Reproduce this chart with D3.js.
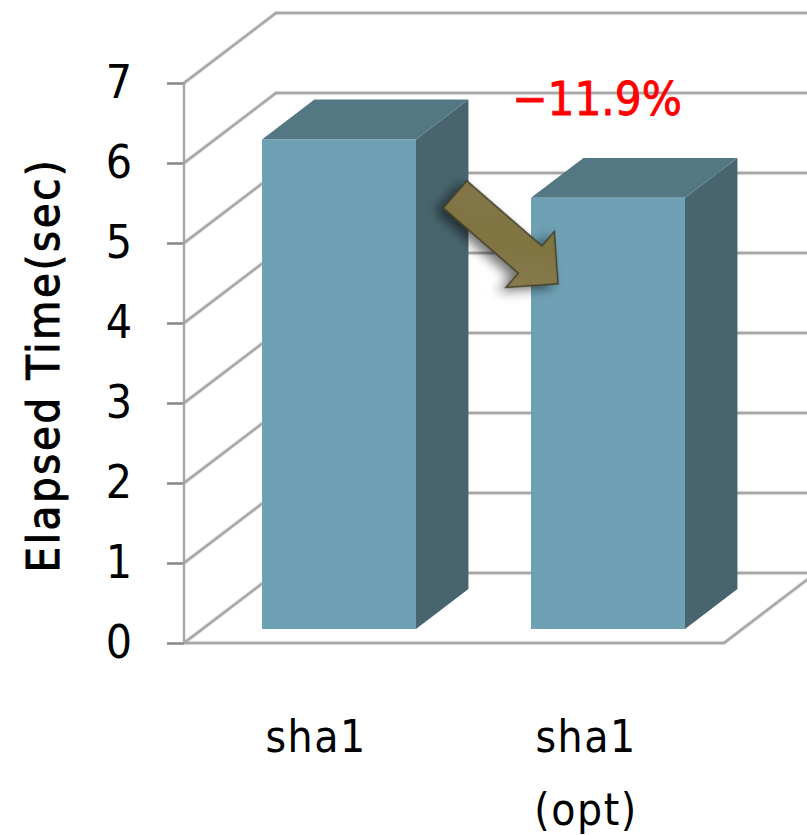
<!DOCTYPE html>
<html>
<head>
<meta charset="utf-8">
<script src="https://cdn.jsdelivr.net/npm/d3@7"></script>
<style>
  html, body { margin: 0; padding: 0; background: #fff; }
  svg { display: block; }
  text { font-family: "DejaVu Sans Condensed", "DejaVu Sans", sans-serif; font-stretch: condensed; fill: #000; }
</style>
</head>
<body>
<svg id="chart" width="807" height="835"></svg>
<script>
// Elapsed time per build
const categories = ["sha1", "sha1 (opt)"];
const categoryLines = [["sha1"], ["sha1", "(opt)"]];
const elapsed = [6.12, 5.39];
const yTicks = [0, 1, 2, 3, 4, 5, 6, 7];
const yTitle = "Elapsed Time(sec)";
const changeLabel = "\u221211.9%";

const width = 807, height = 835;
const frontLeft = 184, frontRight = 724, floorY = 643, topY = 83;
// Projection of the chart depth onto the screen
const depthX = 92, depthY = -70;
const barDepthStart = 0.2, barDepthEnd = 0.77;

const svg = d3.select("#chart");
const y = d3.scaleLinear().domain([0, 7]).range([floorY, topY]);
const xLabels = d3.scaleBand().domain(categories).range([frontLeft, frontRight]);
const xBars = d3.scaleBand().domain(categories)
  .range([frontLeft + 20, frontRight + 19]).paddingInner(115 / 269).paddingOuter(58 / 269);

const gridColor = "#a6a6a6";
const defs = svg.append("defs");

// Arrow fill and soft shadow
const grad = defs.append("linearGradient").attr("id", "arrowFill")
  .attr("x1", "0").attr("y1", "0").attr("x2", "1").attr("y2", "1");
grad.append("stop").attr("offset", "0").attr("stop-color", "#85764e");
grad.append("stop").attr("offset", "0.5").attr("stop-color", "#7f7440");
grad.append("stop").attr("offset", "1").attr("stop-color", "#8a7c54");
const shadow = defs.append("filter").attr("id", "arrowShadow")
  .attr("x", "-30%").attr("y", "-30%").attr("width", "170%").attr("height", "170%");
shadow.append("feDropShadow").attr("dx", -3).attr("dy", 7).attr("stdDeviation", 6)
  .attr("flood-color", "#000").attr("flood-opacity", 0.55);

const wallPath = d => d3.line()([
  [frontLeft, y(d)],
  [frontLeft + depthX, y(d) + depthY],
  [width + 2, y(d) + depthY]
]);
const floorPath = d3.line()([
  [frontLeft, floorY],
  [frontRight, floorY],
  [frontRight + depthX, floorY + depthY]
]);

// Walls and floor: a pale halo beneath a darker rule
[["#e8e8e8", 4.5], [gridColor, 2.4]].forEach(([stroke, w]) => {
  const grid = svg.append("g").attr("fill", "none").attr("stroke", stroke).attr("stroke-width", w);
  grid.selectAll("path").data(yTicks).join("path").attr("d", wallPath);
  grid.append("path").attr("d", floorPath);
});

// Value axis
const axis = d3.axisLeft(y).tickValues(yTicks).tickSize(17).tickPadding(35).tickFormat(d3.format("d"));
const axisG = svg.append("g").attr("transform", `translate(${frontLeft},0)`).call(axis);
axisG.select(".domain").remove();
axisG.append("line").attr("y1", y(0)).attr("y2", y(7))
  .attr("stroke", gridColor).attr("stroke-width", 2.4);
axisG.selectAll(".tick line").attr("stroke", "#8a8a8a").attr("stroke-width", 2.6);
axisG.selectAll(".tick text")
  .attr("fill", "#000").style("font-size", "46px")
  .style("font-family", '"DejaVu Sans Condensed", "DejaVu Sans", sans-serif')
  .style("font-stretch", "condensed");

// Bars as extruded boxes
const floorOffsetX = d => xBars(d);
const bars = svg.append("g").selectAll("g").data(categories).join("g");
const baseY = floorY + depthY * barDepthStart;
const run = barDepthEnd - barDepthStart;
const topOf = (d, i) => baseY - (y(0) - y(elapsed[i]));

bars.append("path").attr("fill", "#48656f").attr("d", (d, i) => {
  const r = floorOffsetX(d) + xBars.bandwidth(), t = topOf(d, i);
  return d3.line()([[r, t], [r + depthX * run, t + depthY * run], [r + depthX * run, baseY + depthY * run], [r, baseY]]);
});
bars.append("path").attr("fill", "#537884").attr("d", (d, i) => {
  const l = floorOffsetX(d), r = l + xBars.bandwidth(), t = topOf(d, i);
  return d3.line()([[l, t], [l + depthX * run, t + depthY * run], [r + depthX * run, t + depthY * run], [r, t]]);
});
bars.append("rect").attr("fill", "#6fa1b5")
  .attr("x", d => floorOffsetX(d))
  .attr("y", (d, i) => topOf(d, i))
  .attr("width", xBars.bandwidth())
  .attr("height", (d, i) => baseY - topOf(d, i));

// Category labels
const labels = svg.append("g").selectAll("text").data(categories).join("text")
  .attr("text-anchor", "middle")
  .attr("x", d => xLabels(d) + xLabels.bandwidth() / 2 - 3)
  .attr("y", 752)
  .style("font-size", "44px")
  .style("letter-spacing", "1.5px");
labels.selectAll("tspan").data((d, i) => categoryLines[i]).join("tspan")
  .attr("x", function () { return d3.select(this.parentNode).attr("x"); })
  .attr("dy", (d, i) => i ? 73 : 0)
  .text(d => d);

// Axis title
svg.append("text")
  .attr("transform", "translate(59,365) rotate(-90)")
  .attr("text-anchor", "middle")
  .style("font-size", "45px")
  .style("letter-spacing", "2.6px")
  .attr("stroke", "#000").attr("stroke-width", 1)
  .text(yTitle);

// Change annotation
svg.append("text")
  .attr("x", 597).attr("y", 115)
  .attr("text-anchor", "middle")
  .style("font-size", "47px")
  .style("fill", "#ff0000")
  .attr("stroke", "#ff0000").attr("stroke-width", 0.8)
  .text(changeLabel);

// Arrow leading from the first bar down to the second, built around its own axis
const arrowFrom = [xBars(categories[0]) + 193, y(elapsed[0]) + 41];
const arrowTo = [xBars(categories[1]) + 27, y(elapsed[1]) + 72];
const ang = Math.atan2(arrowTo[1] - arrowFrom[1], arrowTo[0] - arrowFrom[0]);
const len = Math.hypot(arrowTo[0] - arrowFrom[0], arrowTo[1] - arrowFrom[1]);
const shaftHalf = 18, headHalf = 37, headLen = 37;
const arrowShape = [
  [0, -shaftHalf], [len - headLen, -shaftHalf], [len - headLen, -headHalf], [len, 0],
  [len - headLen, headHalf], [len - headLen, shaftHalf], [0, shaftHalf]
];
svg.append("path")
  .attr("d", d3.line()(arrowShape) + "Z")
  .attr("transform", `translate(${arrowFrom}) rotate(${ang * 180 / Math.PI})`)
  .attr("fill", "url(#arrowFill)")
  .attr("stroke", "#3f3a26").attr("stroke-width", 1.5)
  .attr("filter", "url(#arrowShadow)");
</script>
</body>
</html>
